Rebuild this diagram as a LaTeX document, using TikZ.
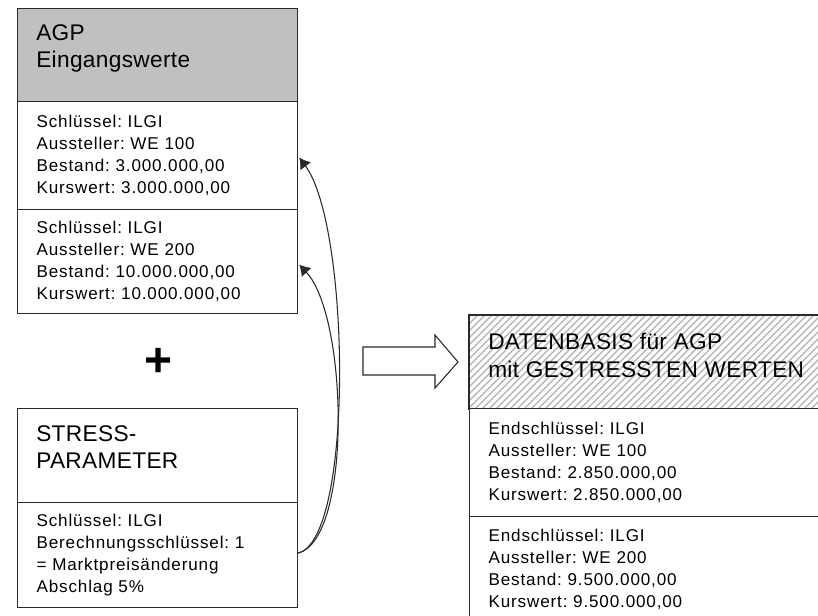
\documentclass[tikz,border=0pt]{standalone}
\usepackage{fontspec}
\setmainfont{Liberation Sans}
\newfontfamily\bodyfont[LetterSpace=5]{Liberation Sans}
\newfontfamily\headfont[LetterSpace=1.5]{Liberation Sans}
\usetikzlibrary{arrows.meta,calc}
\definecolor{hdrgray}{HTML}{C0C0C0}
\definecolor{linegray}{HTML}{2A2A2A}
\definecolor{hatchgray}{HTML}{B0B0B0}
\begin{document}
\frenchspacing
\begin{tikzpicture}[x=0.75pt,y=-0.75pt,
  boxline/.style={draw=linegray, line width=0.9pt},
  sect/.style={boxline, rectangle, anchor=north west, inner ysep=0pt,
    inner xsep=14.25pt, text width=181.5pt, align=left, fill=white,
    font=\bodyfont\fontsize{12.8}{16.5}\selectfont},
  widesect/.style={sect, text width=256.5pt},
  hdrbox/.style={boxline, rectangle, anchor=north west, inner sep=0pt,
    minimum width=210pt, minimum height=69.75pt},
  hdrtext/.style={anchor=north west, inner sep=0pt, align=left,
    font=\headfont\fontsize{17}{20.5}\selectfont},
  conn/.style={draw=linegray, line width=0.8pt, -{Latex[length=8pt,width=10pt]}},
  hatch/.style={draw=hatchgray, line width=1pt}
]
\useasboundingbox (0,0) rectangle (818,616);
\clip (0,0) rectangle (818,616);

% input values
\node[hdrbox, fill=hdrgray] (hA) at (17,8) {};
\node[hdrtext] (tA) at ($(hA.north west)+(19,16)$) {AGP\\Eingangswerte};
\node[sect, minimum height=81pt] (a1) at (17,101)
  {Schlüssel: ILGI\\Aussteller: WE 100\\Bestand: 3.000.000,00\\Kurswert: 3.000.000,00};
\node[sect, minimum height=78pt] (a2) at (17,209)
  {Schlüssel: ILGI\\Aussteller: WE 200\\Bestand: 10.000.000,00\\Kurswert: 10.000.000,00};

% plus sign
\node[inner sep=0pt, font=\bfseries\fontsize{36}{36}\selectfont] (plus) at (159,362) {+};

% stress parameters
\node[hdrbox, fill=white, minimum height=70.5pt] (hS) at (17,408) {};
\node[hdrtext] (tS) at ($(hS.north west)+(19,17)$) {STRESS-\\PARAMETER};
\node[sect, minimum height=78.75pt] (s1) at (17,502)
  {Schlüssel: ILGI\\Berechnungsschlüssel: 1\\= Marktpreisänderung\\Abschlag 5\%};

% connectors from the stress parameters to the input rows
\draw[conn] ($(s1.east)+(0,-2)$) .. controls ($(s1.east)+(56,-16)$) and ($(a1.east)+(52,70)$) .. ($(a1.east)+(1,2)$);
\draw[conn] ($(s1.east)+(0,-2)$) .. controls ($(s1.east)+(54,-16)$) and ($(a2.east)+(50,55)$) .. ($(a2.east)+(1,3)$);

% block arrow
\draw[boxline, line width=0.8pt, fill=white] (363,347) -- (435,347) -- (435,335) -- (458,362)
  -- (435,388) -- (435,375) -- (363,375) -- cycle;

% resulting data
\node[hdrbox, fill=white, minimum width=285pt] (hD) at (469,315) {};
\begin{scope}
  \clip (hD.north west) rectangle (hD.south east);
  \foreach \i in {0,7,...,520} \draw[hatch] (369+\i,410) -- ++(100,-100);
\end{scope}
\draw[boxline] (hD.north west) rectangle (hD.south east);
\node[hdrtext] (tD) at ($(hD.north west)+(19,18)$) {DATENBASIS für AGP\\mit GESTRESSTEN WERTEN};
\node[widesect, minimum height=81pt] (d1) at (469,408)
  {Endschlüssel: ILGI\\Aussteller: WE 100\\Bestand: 2.850.000,00\\Kurswert: 2.850.000,00};
\node[widesect, minimum height=79.5pt] (d2) at (469,516)
  {Endschlüssel: ILGI\\Aussteller: WE 200\\Bestand: 9.500.000,00\\Kurswert: 9.500.000,00};
\end{tikzpicture}
\end{document}
